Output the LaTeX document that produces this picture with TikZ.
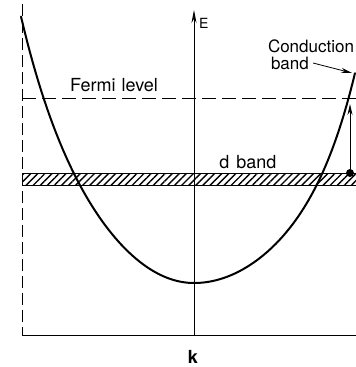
\documentclass[tikz,border=0pt]{standalone}
\usepackage{fontspec}
\setmainfont{TeX Gyre Heros}
\usetikzlibrary{arrows.meta, patterns.meta}
\tikzset{
  band/.style={line width=2pt, line cap=round},
  guide/.style={line width=1pt, dash pattern=on 12pt off 5pt},
  axis/.style={line width=0.8pt},
  lbl/.style={font=\fontsize{18}{17}\selectfont, inner sep=0pt},
  arrow/.style={line width=1pt, -{Stealth[length=11pt, width=5pt]}},
}
\begin{document}
\begin{tikzpicture}[x=1pt, y=-1pt]
  \useasboundingbox (0,0) rectangle (356,367);

  % frame and axes
  \coordinate (tl) at (22,4);
  \coordinate (bl) at (22,335);
  \coordinate (br) at (356,335);
  \coordinate (origin) at (194,335);
  \coordinate (etop) at (194,10);
  \draw[guide] (tl) -- (bl);
  \draw[axis] (bl) -- (br);
  \draw[axis, -{Stealth[length=13pt, width=5pt]}] (origin) -- (etop);
  \node[lbl, font=\fontsize{14}{14}\selectfont, anchor=west] (elabel) at (199,23) {E};
  \node[lbl, font=\fontsize{18}{18}\selectfont\bfseries] (klabel) at (193,357) {k};

  % Fermi level
  \draw[guide, dash pattern=on 14pt off 6pt] (22,98) -- (356,98);
  \node[lbl] (fermi) at (114,85) {Fermi\hspace{1pt} level};

  % d band
  \fill[pattern={Lines[angle=45, distance=5pt, line width=1.4pt]}] (22,173) rectangle (356,185);
  \draw[axis] (22,173) -- (356,173);
  \draw[axis] (22,185) -- (356,185);
  \node[lbl] (dband) at (248,162) {d\hspace{7pt}band};

  % conduction band, E(k) in units of 100pt
  \draw[band] plot[domain=-1.73:0, samples=60]
      ({194+100*\x}, {283-72*\x*\x-1.9*\x*\x*\x*\x*\x*\x})
    -- plot[domain=0:1.61, samples=60]
      ({194+100*\x}, {283-57*\x*\x-3.57*\x*\x*\x*\x*\x*\x});
  \coordinate (ctip) at (352,73);
  \coordinate (ctail) at (313,63);
  \node[lbl, font=\fontsize{17}{17}\selectfont, align=left] (cband) at (311,55) {Conduction\\\hspace{3pt}band};
  \draw[arrow, line width=0.8pt] (ctail) -- (ctip);

  % excitation
  \fill (350,173) circle (4pt) coordinate (dot);
  \coordinate (fermitop) at (350,104);
  \draw[arrow] (dot) -- (fermitop);
\end{tikzpicture}
\end{document}
